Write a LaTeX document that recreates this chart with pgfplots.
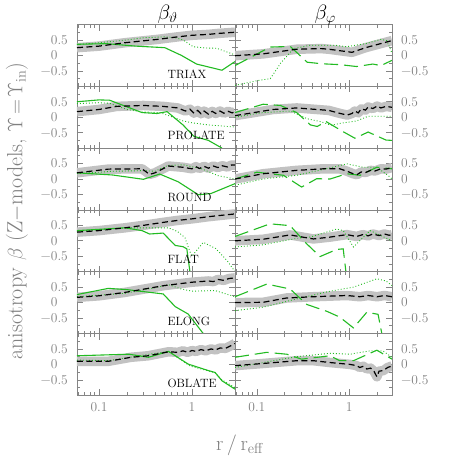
\documentclass[border=0pt]{standalone}
\usepackage{pgfplots}
\usepackage{pgfplotstable}
\pgfplotsset{compat=1.18}
\definecolor{gcol}{HTML}{22BB22}
\definecolor{bandc}{HTML}{C2C2C2}
\definecolor{framec}{HTML}{858585}

\pgfplotsset{
  mypanel/.style={scale only axis, height=61.8pt, anchor=north west,
    xmin=0.058, xmax=2.9, ymin=-1, ymax=1,
    xtick={0.1,1}, minor xtick={0.06,0.07,0.08,0.09,0.2,0.3,0.4,0.5,0.6,0.7,0.8,0.9,2},
    xticklabels={},
    ytick={-0.5,0,0.5}, minor ytick={-0.75,-0.25,0.25,0.75},
    tick align=inside, xtick pos=both, ytick pos=both,
    major tick length=6pt, minor tick length=3pt,
    axis line style={framec, line width=0.8pt},
    tick style={framec, line width=0.7pt},
    tick label style={font=\fontsize{13.5}{13.5}\selectfont, text=gray, inner sep=0pt},
    xticklabel style={yshift=-7pt}},
  myleft/.style={mypanel, width=158pt, yticklabels={{−0.5},{0\phantom{.5}},{0.5}},
    yticklabel style={xshift=-9pt}},
  myright/.style={mypanel, width=157pt, yticklabel pos=right, yticklabels={{−0.5},{0},{0.5}},
    yticklabel style={xshift=9pt}},
  mybottom/.style={xticklabels={{0.1},{1}}},
}
\tikzset{
  bnd/.style={bandc, line width=9.5pt, line join=round},
  blk/.style={black, line width=1.2pt, dash pattern=on 6pt off 3.5pt},
  gsol/.style={gcol, line width=1.1pt},
  gdsh/.style={gcol, line width=1.1pt, dash pattern=on 14pt off 6pt},
  gdot/.style={gcol, line width=0.9pt, dash pattern=on 0.9pt off 2.1pt},
  plab/.style={anchor=west, font=\fontsize{12}{12}\selectfont},
}

% black (model) profiles, left column: beta_theta
\pgfplotstableread{
x y
0.058 0.25
0.1 0.3
0.19 0.41
0.43 0.52
0.7 0.6
0.99 0.65
1.5 0.68
1.9 0.71
2.9 0.75
}\tTL
\pgfplotstableread{
x y
0.058 0.18
0.1 0.25
0.155 0.35
0.3 0.38
0.49 0.35
0.7 0.3
0.85 0.2
0.95 0.26
1.05 0.13
1.15 0.22
1.25 0.11
1.35 0.2
1.5 0.1
1.65 0.19
1.8 0.12
2.0 0.2
2.2 0.13
2.45 0.19
2.7 0.14
2.9 0.18
}\tPL
\pgfplotstableread{
x y
0.058 0.2
0.126 0.32
0.29 0.33
0.35 0.15
0.4 0.2
0.556 0.42
0.8 0.38
1.0 0.33
1.1 0.4
1.2 0.34
1.35 0.41
1.5 0.35
1.7 0.42
1.9 0.37
2.1 0.43
2.4 0.39
2.65 0.45
2.9 0.45
}\tRL
\pgfplotstableread{
x y
0.058 0.28
0.1 0.33
0.19 0.42
0.3 0.5
0.5 0.6
0.7 0.66
1.0 0.71
1.5 0.78
2.0 0.82
2.9 0.87
}\tFL
\pgfplotstableread{
x y
0.058 0.17
0.1 0.22
0.19 0.33
0.5 0.55
1.0 0.66
1.5 0.7
1.7 0.68
1.9 0.75
2.2 0.72
2.5 0.78
2.9 0.8
}\tEL
\pgfplotstableread{
x y
0.058 0.1
0.126 0.1
0.22 0.23
0.34 0.28
0.56 0.41
0.7 0.39
0.8 0.44
0.9 0.39
1.0 0.45
1.1 0.42
1.25 0.48
1.4 0.44
1.6 0.5
1.8 0.47
2.0 0.53
2.3 0.52
2.6 0.6
2.9 0.68
}\tOL
% right column: beta_phi
\pgfplotstableread{
x y
0.058 -0.01
0.117 0.05
0.27 0.2
0.5 0.22
0.6 0.2
0.8 0.15
1.07 0.1
1.5 0.25
2.0 0.35
2.9 0.48
}\tTR
\pgfplotstableread{
x y
0.058 0.05
0.15 0.25
0.27 0.3
0.6 0.22
0.8 0.12
0.95 0.07
1.07 0.12
1.15 0.2
1.25 0.14
1.35 0.27
1.5 0.23
1.6 0.33
1.8 0.28
2.0 0.36
2.2 0.3
2.5 0.35
2.9 0.32
}\tPR
\pgfplotstableread{
x y
0.058 0.0
0.117 0.17
0.27 0.28
0.525 0.33
0.79 0.33
0.95 0.25
1.1 0.17
1.21 0.14
1.35 0.23
1.5 0.21
1.7 0.28
1.9 0.26
2.2 0.33
2.5 0.32
2.9 0.37
}\tRR
\pgfplotstableread{
x y
0.058 0.0
0.117 0.05
0.229 0.19
0.409 0.06
0.62 0.12
0.94 0.2
1.2 0.14
1.4 0.2
1.6 0.16
1.8 0.22
2.1 0.17
2.4 0.22
2.7 0.18
2.9 0.2
}\tFR
\pgfplotstableread{
x y
0.058 0.0
0.117 0.01
0.21 0.15
0.409 0.19
0.94 0.23
1.3 0.19
1.6 0.23
2.0 0.19
2.4 0.23
2.9 0.19
}\tER
\pgfplotstableread{
x y
0.058 -0.04
0.117 0.03
0.27 0.12
0.409 0.12
0.62 0.06
1.02 0.0
1.2 -0.04
1.3 -0.1
1.42 -0.06
1.55 -0.15
1.7 -0.12
1.85 -0.22
1.99 -0.4
2.1 -0.22
2.34 -0.2
2.6 -0.1
2.9 -0.05
}\tOR

\begin{document}
\begin{tikzpicture}
\useasboundingbox (0,0) rectangle (458pt,-458pt);

% ---------- left column ----------
\begin{semilogxaxis}[myleft, at={(77pt,-24.5pt)}]
\addplot[bnd] table {\tTL};
\addplot[gdot] coordinates {(0.058,0.35)(0.1,0.41)(0.2,0.5)(0.3,0.57)(0.5,0.6)(0.65,0.58)(0.8,0.5)(1.03,0.28)(1.4,0.24)(1.85,0.23)(2.7,0.05)(2.9,0.02)};
\addplot[gsol] coordinates {(0.058,0.36)(0.12,0.38)(0.25,0.3)(0.51,0.25)(0.77,0.0)(1.12,-0.28)(2.1,-0.48)(2.9,-0.2)};
\addplot[blk] table {\tTL};
\node[plab] at (axis cs:0.5,-0.6) {TRIAX};
\end{semilogxaxis}

\begin{semilogxaxis}[myleft, at={(77pt,-86.3pt)}]
\addplot[bnd] table {\tPL};
\addplot[gdot] coordinates {(0.058,0.44)(0.1,0.47)(0.13,0.45)(0.2,0.25)(0.29,0.17)(0.45,0.15)(0.6,0.02)(0.8,-0.12)(1,-0.18)(1.5,-0.25)(2,-0.28)(2.9,-0.32)};
\addplot[gsol] coordinates {(0.058,0.5)(0.1,0.56)(0.13,0.55)(0.29,0.15)(0.42,0.12)(0.54,0.18)(0.8,-0.25)(1.05,-0.62)(1.5,-0.75)(2.1,-1.0)};
\addplot[blk] table {\tPL};
\node[plab] at (axis cs:0.5,-0.6) {PROLATE};
\end{semilogxaxis}

\begin{semilogxaxis}[myleft, at={(77pt,-148.1pt)}]
\addplot[bnd] table {\tRL};
\addplot[gdot] coordinates {(0.058,0.17)(0.14,0.25)(0.29,0.27)(0.4,0.25)(0.55,0.44)(0.8,0.46)(1.27,0.33)(1.9,0.11)(2.9,0.0)};
\addplot[gsol] coordinates {(0.058,0.2)(0.14,0.13)(0.3,-0.01)(0.45,0.16)(0.71,-0.09)(1.17,-0.51)(1.6,-0.47)(2.9,-0.15)};
\addplot[blk] table {\tRL};
\node[plab] at (axis cs:0.5,-0.6) {ROUND};
\end{semilogxaxis}

\begin{semilogxaxis}[myleft, at={(77pt,-209.9pt)}]
\addplot[bnd] table {\tFL};
\addplot[gdot] coordinates {(0.058,0.31)(0.19,0.42)(0.56,0.42)(0.7,0.3)(0.84,0.1)(0.95,-0.35)(1.0,-0.5)(1.32,-0.05)(1.8,-0.25)(2.4,-0.65)(2.9,-1.0)};
\addplot[gsol] coordinates {(0.058,0.33)(0.19,0.42)(0.29,0.33)(0.35,0.22)(0.49,0.25)(0.66,-0.15)(0.8,-0.19)(0.88,-0.26)(0.95,-1.0)};
\addplot[blk] table {\tFL};
\node[plab] at (axis cs:0.5,-0.6) {FLAT};
\end{semilogxaxis}

\begin{semilogxaxis}[myleft, at={(77pt,-271.7pt)}]
\addplot[bnd] table {\tEL};
\addplot[gdot] coordinates {(0.058,0.19)(0.19,0.3)(0.4,0.48)(0.56,0.58)(0.77,0.44)(1,0.37)(1.77,0.39)(2.9,0.19)};
\addplot[gsol] coordinates {(0.058,0.26)(0.126,0.46)(0.2,0.42)(0.49,0.28)(0.66,-0.13)(0.91,-0.37)(1.32,-1.0)};
\addplot[blk] table {\tEL};
\node[plab] at (axis cs:0.5,-0.6) {ELONG};
\end{semilogxaxis}

\begin{semilogxaxis}[myleft, mybottom, at={(77pt,-333.5pt)}]
\addplot[bnd] table {\tOL};
\addplot[gdot] coordinates {(0.058,0.14)(0.126,0.12)(0.3,0.3)(0.56,0.42)(0.95,-0.05)(1.77,-0.27)(2.1,-0.5)(2.9,-0.75)};
\addplot[gsol] coordinates {(0.058,0.28)(0.21,0.33)(0.34,0.23)(0.56,0.42)(0.91,0.01)(1.5,-0.2)(1.77,-0.26)(2.1,-0.53)(2.9,-0.8)};
\addplot[blk] table {\tOL};
\node[plab] at (axis cs:0.5,-0.6) {OBLATE};
\end{semilogxaxis}

% ---------- right column ----------
\begin{semilogxaxis}[myright, at={(235pt,-24.5pt)}]
\addplot[bnd] table {\tTR};
\addplot[gdot] coordinates {(0.058,-0.97)(0.1,-0.82)(0.14,-0.75)(0.18,-0.26)(0.25,0.22)(0.38,0.33)(0.7,0.33)(0.93,0.28)(1.5,0.38)(2.2,0.52)(2.55,0.48)(2.9,0.07)};
\addplot[gdsh] coordinates {(0.058,-0.33)(0.139,0.27)(0.23,0.29)(0.35,-0.22)(0.5,-0.27)(0.8,-0.3)(1.2,-0.36)(1.8,-0.28)(2.2,-0.33)(2.9,-0.16)};
\addplot[blk] table {\tTR};
\end{semilogxaxis}

\begin{semilogxaxis}[myright, at={(235pt,-86.3pt)}]
\addplot[bnd] table {\tPR};
\addplot[gdot] coordinates {(0.058,0.0)(0.117,0.15)(0.23,0.2)(0.35,-0.05)(0.5,-0.15)(0.63,-0.26)(0.8,-0.2)(1.2,-0.12)(1.6,0.03)(2.9,0.03)};
\addplot[gdsh] coordinates {(0.058,0.15)(0.117,0.42)(0.18,0.38)(0.27,0.15)(0.38,-0.25)(0.45,-0.3)(0.56,-0.14)(0.86,-0.47)(1.15,-0.68)(1.6,-0.48)(2.5,-0.74)(2.9,-0.75)};
\addplot[blk] table {\tPR};
\end{semilogxaxis}

\begin{semilogxaxis}[myright, at={(235pt,-148.1pt)}]
\addplot[bnd] table {\tRR};
\addplot[gdot] coordinates {(0.058,-0.2)(0.117,0.0)(0.27,0.12)(0.62,0.36)(0.94,0.49)(1.42,0.38)(1.99,0.38)(2.77,0.06)(2.9,0.0)};
\addplot[gdsh] coordinates {(0.058,0.0)(0.1,0.22)(0.139,0.17)(0.194,0.12)(0.305,-0.26)(0.445,0.01)(0.62,0.0)(0.94,0.17)(1.31,0.12)(1.99,0.38)(2.9,0.33)};
\addplot[blk] table {\tRR};
\end{semilogxaxis}

\begin{semilogxaxis}[myright, at={(235pt,-209.9pt)}]
\addplot[bnd] table {\tFR};
\addplot[gdot] coordinates {(0.058,-0.2)(0.117,-0.13)(0.27,0.08)(0.377,0.12)(0.73,0.38)(0.86,0.33)(1.11,-0.2)(1.68,0.33)(2.9,0.0)};
\addplot[gdsh] coordinates {(0.058,0.14)(0.139,0.55)(0.229,0.49)(0.347,-0.1)(0.483,-0.51)(0.73,-0.28)(0.86,-0.26)(0.92,-1.0)};
\addplot[blk] table {\tFR};
\end{semilogxaxis}

\begin{semilogxaxis}[myright, at={(235pt,-271.7pt)}]
\addplot[bnd] table {\tER};
\addplot[gdot] coordinates {(0.058,-0.26)(0.117,-0.15)(0.27,0.12)(0.62,0.37)(1.11,0.5)(1.99,0.77)(2.5,0.7)(2.9,0.55)};
\addplot[gdsh] coordinates {(0.058,0.19)(0.128,0.6)(0.229,0.44)(0.347,-0.06)(0.57,-0.28)(0.79,-0.47)(1.11,-0.82)(1.55,-0.31)(2.05,-0.38)(2.25,-1.0)};
\addplot[blk] table {\tER};
\end{semilogxaxis}

\begin{semilogxaxis}[myright, mybottom, at={(235pt,-333.5pt)}]
\addplot[bnd] table {\tOR};
\addplot[gdot] coordinates {(0.058,-0.1)(0.117,0.06)(0.27,0.25)(0.62,0.36)(1.02,0.33)(1.68,0.44)(2.3,0.44)(2.9,0.23)};
\addplot[gdsh] coordinates {(0.058,0.23)(0.128,0.39)(0.21,0.33)(0.305,0.17)(0.62,0.28)(0.79,0.12)(1.11,0.12)(1.99,0.46)(2.9,0.17)};
\addplot[blk] table {\tOR};
\end{semilogxaxis}

% titles and axis labels
\node[anchor=base west, font=\fontsize{20}{20}\selectfont] at (154pt,-19pt) {$\beta_\vartheta$};
\node[anchor=base west, font=\fontsize{20}{20}\selectfont] at (311pt,-19pt) {$\beta_\varphi$};
\node[rotate=90, font=\fontsize{22}{22}\selectfont, text=gray] at (17pt,-211pt)
  {anisotropy $\beta$ (Z$-$models, $\Upsilon\!=\!\Upsilon_{\rm in}$)};
\node[anchor=base, font=\fontsize{20}{20}\selectfont, text=gray] at (240pt,-450pt)
  {$\mathrm{r}\,/\,\mathrm{r}_{\mathrm{eff}}$};
\end{tikzpicture}
\end{document}
